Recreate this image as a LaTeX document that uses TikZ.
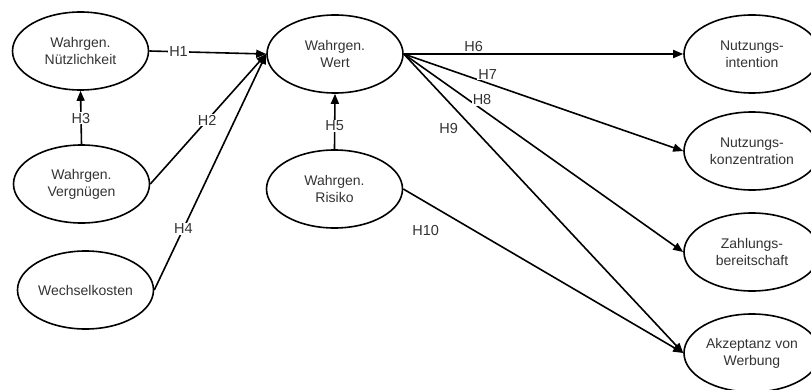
\documentclass[tikz,border=0pt]{standalone}
\usepackage{fontspec}
\setmainfont{Liberation Sans}
\usetikzlibrary{arrows.meta,shapes.geometric}
\begin{document}
\begin{tikzpicture}[x=1pt,y=1pt,
  construct/.style={ellipse,draw,line width=1.6pt,minimum width=136pt,minimum height=78pt,inner sep=0pt,align=center,
    font=\fontsize{14}{17}\selectfont,text=black!80},
  link/.style={line width=1.6pt,-{Triangle[length=10pt,width=8pt]}},
  hlabel/.style={font=\fontsize{14.5}{16}\selectfont,text=black!80,inner sep=1pt},
  cut/.style={hlabel,fill=white}]
\useasboundingbox (0,0) rectangle (811,389);
\node[construct] (nuetz) at (80.5,338) {Wahrgen.\\Nützlichkeit};
\node[construct] (vergn) at (81.5,205) {Wahrgen.\\Vergnügen};
\node[construct] (wechsel) at (85.5,99) {Wechselkosten};
\node[construct] (wert) at (335,335) {Wahrgen.\\Wert};
\node[construct] (risiko) at (334.5,200) {Wahrgen.\\Risiko};
\node[construct] (intent) at (752,335) {Nutzungs-\\intention};
\node[construct] (konz) at (752,238) {Nutzungs-\\konzentration};
\node[construct] (zahl) at (752,137) {Zahlungs-\\bereitschaft};
\node[construct] (akz) at (752,36) {Akzeptanz von\\Werbung};

\draw[link] (nuetz.east) -- node[cut,pos=0.25] {H1} (wert.west);
\draw[link] (vergn.east) -- node[cut,pos=0.49] {H2} (wert.west);
\draw[link] (vergn.north) -- node[cut,pos=0.49] {H3} (nuetz.south);
\draw[link] (wechsel.east) -- node[cut,pos=0.26] {H4} (wert.west);
\draw[link] (risiko.north) -- node[cut,pos=0.42] {H5} (wert.south);
\draw[link] (wert.east) -- node[hlabel,pos=0.25,above=1pt] {H6} (intent.west);
\draw[link] (wert.east) -- node[cut,pos=0.3,yshift=9pt] {H7} (konz.west);
\draw[link] (wert.east) -- node[cut,pos=0.28,yshift=10pt] {H8} (zahl.west);
\draw[link] (wert.east) -- node[hlabel,pos=0.25,xshift=-25pt] {H9} (akz.west);
\draw[link] (risiko.east) -- node[hlabel,pos=0.08,yshift=-28pt] {H10} (akz.west);
\end{tikzpicture}
\end{document}
